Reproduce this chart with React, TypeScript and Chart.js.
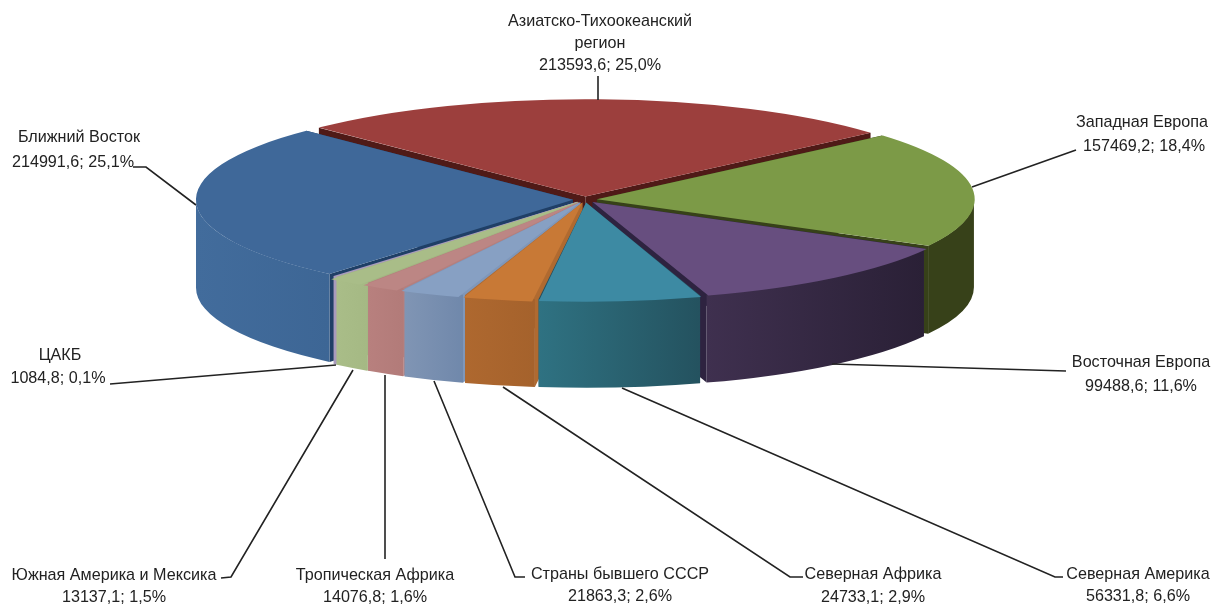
import React, { useEffect, useRef } from "react";
import { Chart, registerables } from "chart.js";

Chart.register(...registerables);

const categories = [
  "Азиатско-Тихоокеанский\nрегион",
  "Западная Европа",
  "Восточная Европа",
  "Северная Америка",
  "Северная Африка",
  "Страны бывшего СССР",
  "Тропическая Африка",
  "Южная Америка и Мексика",
  "ЦАКБ",
  "Ближний Восток",
];
const values = [213593.6, 157469.2, 99488.6, 56331.8, 24733.1, 21863.3, 14076.8, 13137.1, 1084.8, 214991.6];
const valueLabels = ["213593,6", "157469,2", "99488,6", "56331,8", "24733,1", "21863,3", "14076,8", "13137,1", "1084,8", "214991,6"];
const percentLabels = ["25,0%", "18,4%", "11,6%", "6,6%", "2,9%", "2,6%", "1,6%", "1,5%", "0,1%", "25,1%"];

const topColors = ["#9C3F3D", "#7C9A47", "#674E7F", "#3D8AA3", "#C87936", "#87A0C3", "#BC8684", "#A9BD88", "#A99BBD", "#3F6899"];
const wallLeft = ["#4F1A17", "#374119", "#3F304F", "#2F7282", "#AE682F", "#8095B4", "#B8807E", "#A9BD88", "#A99BBD", "#426C9C"];
const wallRight = ["#4F1A17", "#374119", "#2A2036", "#24525F", "#A5622C", "#7088AB", "#B27B79", "#A5B984", "#A99BBD", "#3D6695"];
const sideColors = ["#4F1A17", "#374119", "#2E2340", "#264F5E", "#B06A30", "#7F97BA", "#B57F7D", "#A3B783", "#A99BBD", "#1F3F66"];

// Label placement: text centre x, first-line y, line step, value-line shift, leader polyline
const labelLayout = [
  { x: 600, y: 21, step: 22, dx: 0, lead: [[598, 100], [598, 76]] },
  { x: 1142, y: 122, step: 24, dx: 2, lead: [[972, 187], [1076, 150]] },
  { x: 1141, y: 362, step: 24, dx: 0, lead: [[832, 364], [1066, 371]] },
  { x: 1138, y: 574, step: 22, dx: 0, lead: [[622, 388], [1055, 577], [1063, 577]] },
  { x: 873, y: 574, step: 23, dx: 0, lead: [[503, 387], [790, 577], [803, 577]] },
  { x: 620, y: 574, step: 22, dx: 0, lead: [[434, 381], [515, 577], [525, 577]] },
  { x: 375, y: 575, step: 22, dx: 0, lead: [[385, 375], [385, 559]] },
  { x: 114, y: 575, step: 22, dx: 0, lead: [[353, 370], [231, 577], [221, 578]] },
  { x: 60, y: 355, step: 23, dx: -2, lead: [[336, 365], [110, 384]] },
  { x: 79, y: 137, step: 25, dx: -6, lead: [[196, 205], [146, 167], [133, 167]] },
];

const SQUASH = 0.258;
const DEPTH = 88;
const EXPLODE = 12;
const TEXT_SCALE = 0.95;
const TWO_PI = Math.PI * 2;

const pie3d = {
  id: "pie3d",
  beforeDatasetsDraw(chart: any) {
    const ctx = chart.ctx;
    const arcs = chart.getDatasetMeta(0).data;
    const order = arcs
      .map((a: any, i: number) => ({ a, i, mid: (a.startAngle + a.endAngle) / 2 }))
      .sort((p: any, q: any) => Math.sin(p.mid) - Math.sin(q.mid));
    for (const { a, i, mid } of order) {
      const cx = a.x + EXPLODE * Math.cos(mid);
      const cy = a.y + EXPLODE * Math.sin(mid) * SQUASH;
      const R = a.outerRadius;
      const Ry = R * SQUASH;
      const px = (t: number) => cx + R * Math.cos(t);
      const py = (t: number) => cy + Ry * Math.sin(t);
      // radial cut faces
      ctx.fillStyle = sideColors[i];
      for (const t of [a.startAngle, a.endAngle]) {
        ctx.beginPath();
        ctx.moveTo(cx, cy);
        ctx.lineTo(px(t), py(t));
        ctx.lineTo(px(t), py(t) + DEPTH);
        ctx.lineTo(cx, cy + DEPTH);
        ctx.closePath();
        ctx.fill();
      }
      // outer wall: front half of the rim only
      for (let k = -1; k <= 1; k++) {
        const s = Math.max(a.startAngle, k * TWO_PI);
        const e = Math.min(a.endAngle, k * TWO_PI + Math.PI);
        if (e <= s) continue;
        const g = ctx.createLinearGradient(Math.min(px(s), px(e)), 0, Math.max(px(s), px(e)), 0);
        g.addColorStop(0, wallLeft[i]);
        g.addColorStop(1, wallRight[i]);
        ctx.fillStyle = g;
        ctx.beginPath();
        ctx.ellipse(cx, cy, R, Ry, 0, s, e, false);
        ctx.ellipse(cx, cy + DEPTH, R, Ry, 0, e, s, true);
        ctx.closePath();
        ctx.fill();
      }
    }
    const c = arcs[0];
    ctx.save();
    ctx.translate(c.x, c.y);
    ctx.scale(1, SQUASH);
    ctx.translate(-c.x, -c.y);
  },
  afterDatasetsDraw(chart: any) {
    chart.ctx.restore();
  },
  afterDraw(chart: any) {
    const ctx = chart.ctx;
    ctx.save();
    ctx.strokeStyle = "#222222";
    ctx.lineWidth = 1.6;
    ctx.fillStyle = "#222222";
    ctx.font = '17px "Liberation Sans"';
    ctx.textAlign = "center";
    ctx.textBaseline = "middle";
    categories.forEach((name, i) => {
      const l = labelLayout[i];
      ctx.beginPath();
      l.lead.forEach(([x, y], j) => (j ? ctx.lineTo(x, y) : ctx.moveTo(x, y)));
      ctx.stroke();
      const names = name.split("\n");
      const lines = [...names, `${valueLabels[i]}; ${percentLabels[i]}`];
      lines.forEach((t, j) => {
        const x = l.x + (j === names.length ? l.dx : 0);
        ctx.save();
        ctx.translate(x, l.y + j * l.step);
        ctx.scale(TEXT_SCALE, 1);
        ctx.fillText(t, 0, 0);
        ctx.restore();
      });
    });
    ctx.restore();
  },
};

export default function App() {
  const ref = useRef<HTMLCanvasElement>(null);
  useEffect(() => {
    const chart = new Chart(ref.current!, {
      type: "pie",
      data: {
        labels: categories.map((c) => c.replace("\n", " ")),
        datasets: [
          {
            data: values,
            backgroundColor: topColors,
            borderWidth: 0,
            offset: EXPLODE * 4,
            clip: false,
          } as any,
        ],
      },
      options: {
        responsive: false,
        animation: false,
        events: [],
        rotation: -45,
        radius: 377,
        layout: { padding: { right: 51, bottom: 208 } },
        plugins: { legend: { display: false }, tooltip: { enabled: false } },
      } as any,
      plugins: [pie3d],
    });
    return () => chart.destroy();
  }, []);
  return (
    <div style={{ position: "absolute", left: 0, top: 0, width: 1221, height: 607, background: "#fff" }}>
      <canvas ref={ref} width={1221} height={607} style={{ display: "block" }} />
    </div>
  );
}
